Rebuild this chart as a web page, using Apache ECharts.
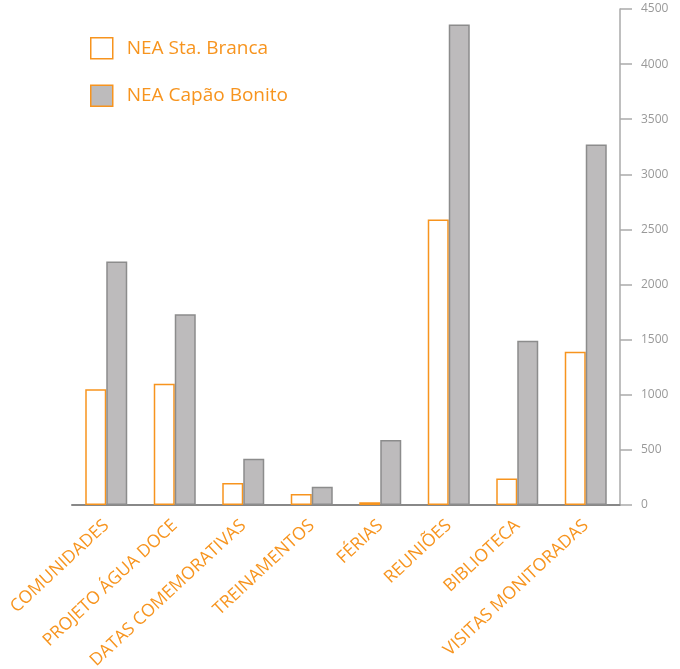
<!DOCTYPE html>
<html>
<head>
<meta charset="utf-8">
<script src="https://cdn.jsdelivr.net/npm/echarts@6/dist/echarts.min.js"></script>
<style>html,body{margin:0;padding:0;background:#fff}#c{width:680px;height:669px}</style>
</head>
<body>
<div id="c"></div>
<script>
const categories = ['COMUNIDADES','PROJETO ÁGUA DOCE','DATAS COMEMORATIVAS','TREINAMENTOS','FÉRIAS','REUNIÕES','BIBLIOTECA','VISITAS MONITORADAS'];
const seriesNames = ['NEA Sta. Branca','NEA Capão Bonito'];
const staBranca = [1050, 1100, 200, 100, 25, 2590, 240, 1390];
const capaoBonito = [2210, 1730, 420, 165, 590, 4360, 1490, 3270];

const ORANGE = '#F7941E';
const chart = echarts.init(document.getElementById('c'));
chart.setOption({
  animation: false,
  textStyle: { fontFamily: 'Open Sans' },
  grid: { left: 72, right: 60, top: 9, bottom: 164, containLabel: false, outerBoundsMode: 'none' },
  legend: {
    orient: 'vertical', left: 85, top: 32,
    itemWidth: 22, itemHeight: 21, itemGap: 25,
    icon: 'rect',
    textStyle: { color: ORANGE, fontSize: 19, fontFamily: 'Open Sans', padding: [0, 0, 0, 9] },
    data: [
      { name: seriesNames[0], itemStyle: { color: '#fff', borderColor: ORANGE, borderWidth: 1.5 } },
      { name: seriesNames[1], itemStyle: { color: '#BDBBBC', borderColor: ORANGE, borderWidth: 1.5 } }
    ]
  },
  xAxis: {
    type: 'category', data: categories,
    axisLine: { show: true, lineStyle: { color: '#888', width: 2 } },
    axisTick: { show: false },
    axisLabel: { interval: 0, rotate: 43, color: ORANGE, fontSize: 17.5, margin: 18, fontFamily: 'Open Sans' }
  },
  yAxis: {
    type: 'value', position: 'right', min: 0, max: 4500, interval: 500,
    axisLine: { show: true, lineStyle: { color: '#aaa', width: 1.5 } },
    axisTick: { show: true, inside: false, length: 12, lineStyle: { color: '#aaa', width: 1.5 } },
    axisLabel: { color: '#999', fontSize: 12, margin: 21, fontFamily: 'Open Sans', formatter: v => String(v) },
    splitLine: { show: false }
  },
  series: [
    { name: seriesNames[0], type: 'bar', data: staBranca, barWidth: 21, barGap: '0%',
      itemStyle: { color: '#fff', borderColor: ORANGE, borderWidth: 1.5 } },
    { name: seriesNames[1], type: 'bar', data: capaoBonito, barWidth: 21, barGap: '0%',
      itemStyle: { color: '#BDBBBC', borderColor: '#8c8c8c', borderWidth: 1.5 } }
  ]
});
</script>
</body>
</html>
